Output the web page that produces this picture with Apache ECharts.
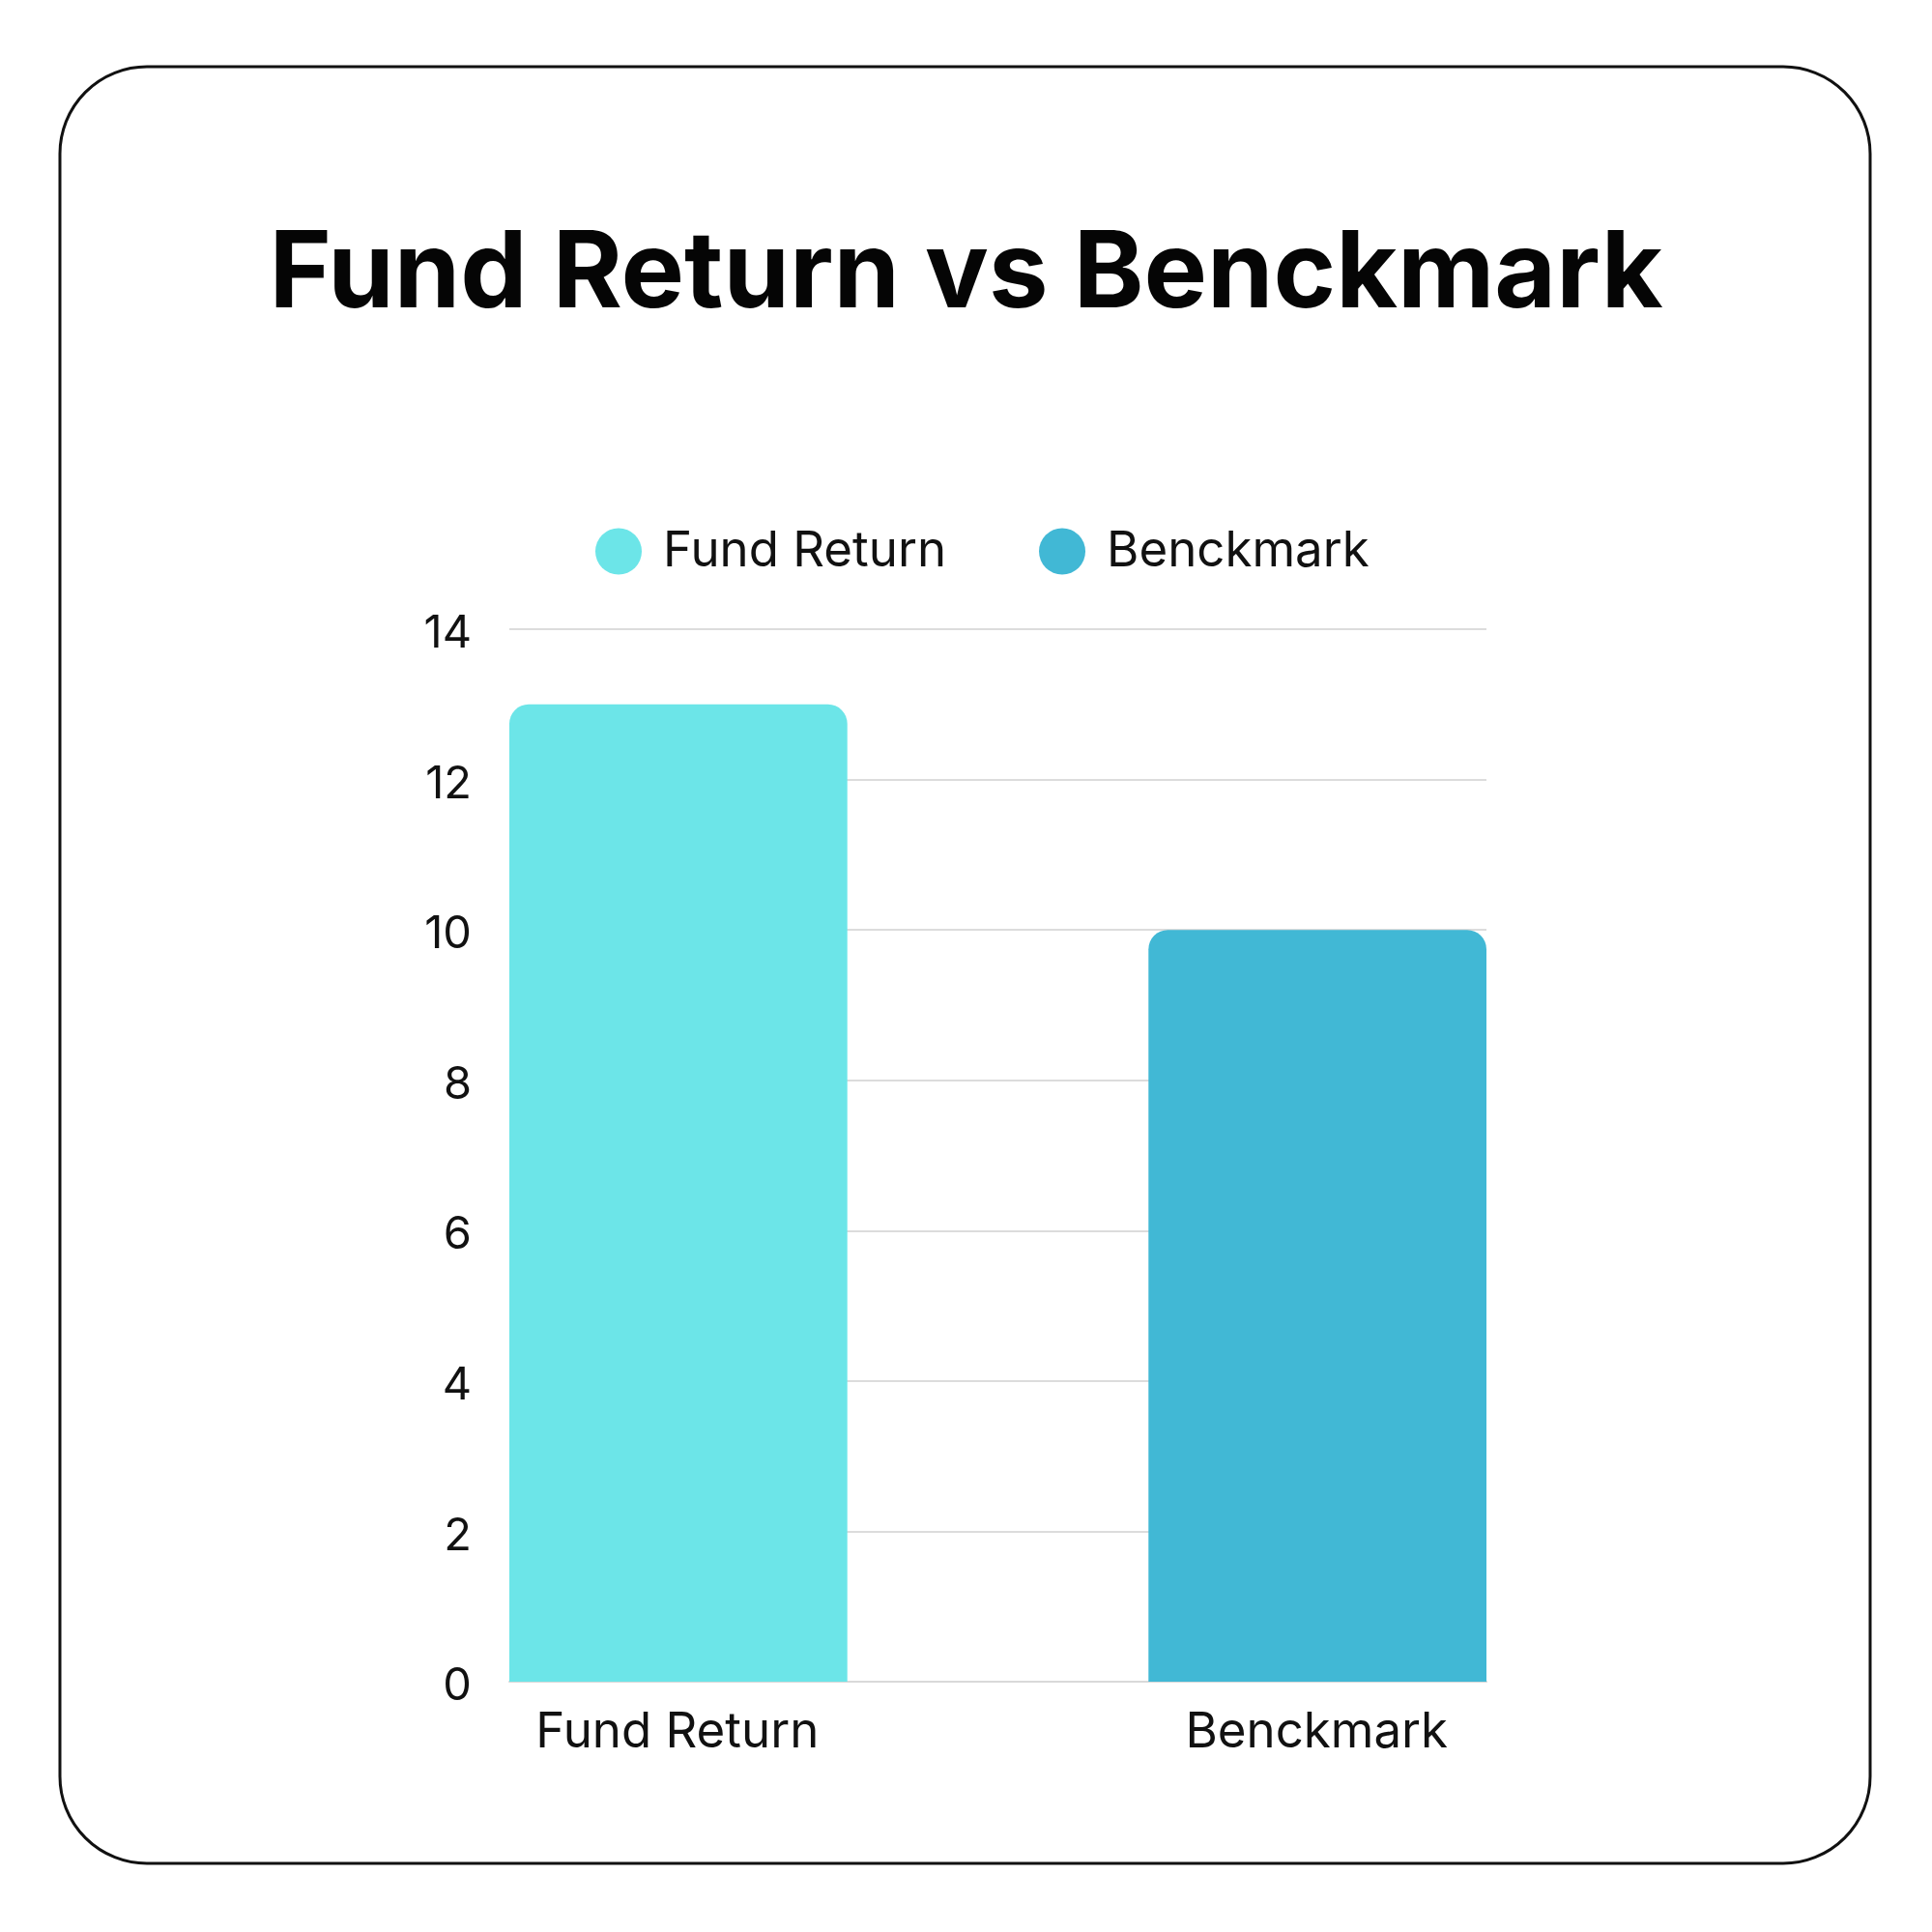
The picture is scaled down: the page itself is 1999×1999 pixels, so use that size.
<!DOCTYPE html>
<html lang="en">
<head>
    <meta charset="UTF-8">
    <title>Fund Return vs Benckmark</title>
    <script src="https://cdn.jsdelivr.net/npm/echarts@6/dist/echarts.min.js"></script>
    <style>
        html, body { margin: 0; padding: 0; background: #fff; }
        #main { width: 1999px; height: 1999px; }
    </style>
</head>
<body>
<div id="main"></div>
<script type="text/javascript">
    // chart data
    var categories = ["Fund Return", "Benckmark"];
    var fundReturn = [13, "-"];
    var benchmark = ["-", 10];
    var yTicks = [0, 2, 4, 6, 8, 10, 12, 14];

    var font = "Inter, 'Open Sans', sans-serif";
    var myChart = echarts.init(document.getElementById("main"));

    var option = {
        backgroundColor: "#fff",
        animation: false,
        graphic: [{
            // rounded frame round the whole chart
            type: "rect",
            shape: { x: 62, y: 69, width: 1873, height: 1859, r: 90 },
            style: { fill: "none", stroke: "#111", lineWidth: 3 },
            z: -1
        }],
        title: {
            text: "Fund Return vs Benckmark",
            left: "center",
            top: 225,
            textStyle: { fontFamily: font, fontSize: 110, fontWeight: "bold", color: "#050505" }
        },
        legend: {
            left: 611,
            top: 540,
            icon: "circle",
            itemWidth: 48,
            itemHeight: 48,
            itemGap: 96,
            textStyle: { fontFamily: font, fontSize: 51, color: "#111", padding: [0, 0, 0, 17] },
            data: ["Fund Return", "Benckmark"]
        },
        grid: { left: 527, right: 461, top: 651, bottom: 259, containLabel: false },
        xAxis: {
            type: "category",
            data: categories,
            axisTick: { show: false },
            axisLine: { lineStyle: { color: "#d9d9d9", width: 2 } },
            axisLabel: {
                margin: 27,
                color: "#111",
                fontFamily: font,
                fontSize: 51,
                formatter: function (v, i) {
                    return i === 0 ? "{a|" + v + "}" : "{b|" + v + "}";
                },
                rich: {
                    a: { fontFamily: font, fontSize: 51, color: "#111", padding: [0, 158, 0, 0] },
                    b: { fontFamily: font, fontSize: 51, color: "#111", padding: [0, 0, 0, 154] }
                }
            }
        },
        yAxis: {
            type: "value",
            min: yTicks[0],
            max: yTicks[yTicks.length - 1],
            interval: 2,
            axisLine: { show: false },
            axisTick: { show: false },
            axisLabel: {
                margin: 39,
                color: "#111",
                fontFamily: font,
                fontSize: 47,
                formatter: function (v) { return "{v|" + v + "}"; },
                rich: {
                    v: { fontFamily: font, fontSize: 47, color: "#111", padding: [10, 0, 0, 0] }
                }
            },
            splitLine: { lineStyle: { color: "#dcdcdc", width: 2 } }
        },
        series: [{
            name: "Fund Return",
            type: "bar",
            data: fundReturn,
            barWidth: 350,
            barGap: "-55.4%",
            itemStyle: { color: "#6ce5e8", borderRadius: [20, 20, 0, 0] }
        }, {
            name: "Benckmark",
            type: "bar",
            data: benchmark,
            barWidth: 350,
            itemStyle: { color: "#41b8d5", borderRadius: [20, 20, 0, 0] }
        }]
    };

    myChart.setOption(option);
</script>
</body>
</html>
